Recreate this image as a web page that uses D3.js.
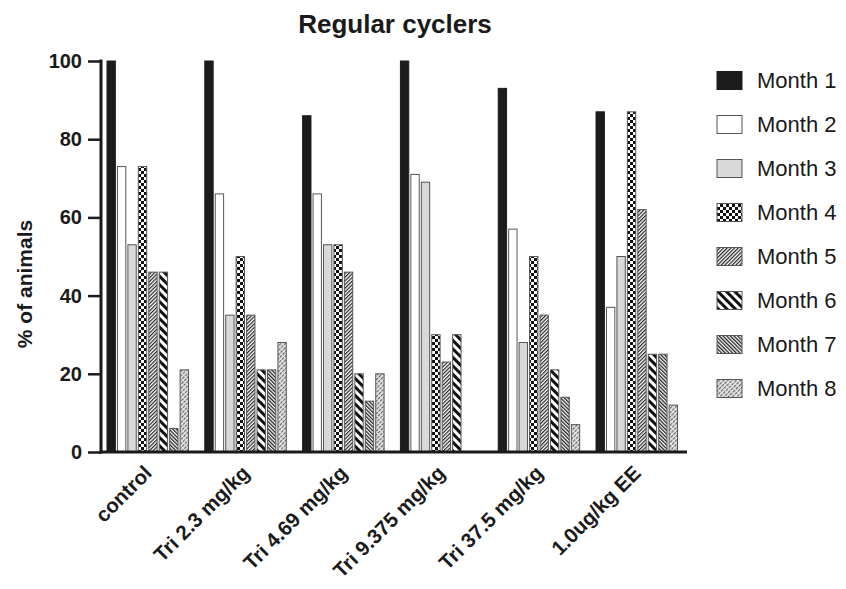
<!DOCTYPE html>
<html><head><meta charset="utf-8">
<script src="https://cdn.jsdelivr.net/npm/d3@7"></script>
<style>body{margin:0;background:#fff}svg{display:block}text{font-family:"Liberation Sans",Arial,Helvetica,sans-serif;fill:#1a1a1a}</style>
</head><body><svg id="c" width="846" height="589"></svg>
<script>
const groups = ["control", "Tri 2.3 mg/kg", "Tri 4.69 mg/kg", "Tri 9.375 mg/kg", "Tri 37.5 mg/kg", "1.0ug/kg EE"];
const months = ["Month 1", "Month 2", "Month 3", "Month 4", "Month 5", "Month 6", "Month 7", "Month 8"];
const month1 = [100, 100, 86, 100, 93, 87];
const month2 = [73, 66, 66, 71, 57, 37];
const month3 = [53, 35, 53, 69, 28, 50];
const month4 = [73, 50, 53, 30, 50, 87];
const month5 = [46, 35, 46, 23, 35, 62];
const month6 = [46, 21, 20, 30, 21, 25];
const month7 = [6, 21, 13, 0, 14, 25];
const month8 = [21, 28, 20, 0, 7, 12];
const yTicks = [0, 20, 40, 60, 80, 100];
const series = [month1, month2, month3, month4, month5, month6, month7, month8];

const svg = d3.select("#c");
const defs = svg.append("defs");
function pat(id, w, h, draw, bg, rot) {
  const p = defs.append("pattern").attr("id", id).attr("patternUnits", "userSpaceOnUse")
    .attr("width", w).attr("height", h);
  if (rot) p.attr("patternTransform", `rotate(${rot})`);
  p.append("rect").attr("width", w).attr("height", h).attr("fill", bg || "#fff");
  draw(p);
}
// checker
pat("p4", 6, 6, p => {
  p.append("rect").attr("x", 0).attr("y", 0).attr("width", 3).attr("height", 3).attr("fill", "#111");
  p.append("rect").attr("x", 3).attr("y", 3).attr("width", 3).attr("height", 3).attr("fill", "#111");
});
// fine forward hatch
pat("p5", 2.6, 10, p => {
  p.append("rect").attr("x", 0).attr("y", 0).attr("width", 1.2).attr("height", 10).attr("fill", "#222");
}, "#fff", 45);
// bold back hatch
pat("p6", 6, 10, p => {
  p.append("rect").attr("x", 0).attr("y", 0).attr("width", 3).attr("height", 10).attr("fill", "#111");
}, "#fff", -45);
// fine back hatch
pat("p7", 2.6, 10, p => {
  p.append("rect").attr("x", 0).attr("y", 0).attr("width", 1.3).attr("height", 10).attr("fill", "#222");
}, "#fff", -45);
// light dashed hatch
pat("p8", 3, 4, p => {
  p.append("rect").attr("x", 0).attr("y", 0).attr("width", 1.2).attr("height", 3).attr("fill", "#666");
}, "#e6e6e6", 45);

const fills = ["#1c1c1c", "#ffffff", "#d9d9d9", "url(#p4)", "url(#p5)", "url(#p6)", "url(#p7)", "url(#p8)"];

const y = d3.scaleLinear().domain([0, 100]).range([452, 61]);
const x0 = d3.scaleBand().domain(groups).range([107, 107 + 5 * 97.8 + 81.5]).paddingInner(0.167);
const x1 = d3.scaleBand().domain(months).range([0, x0.bandwidth()]).paddingInner(0.2);

// bars
const g = svg.append("g");
groups.forEach((grp, gi) => {
  months.forEach((m, mi) => {
    const v = series[mi][gi];
    if (v <= 0) return;
    g.append("rect")
      .attr("x", x0(grp) + x1(m))
      .attr("y", y(v))
      .attr("width", x1.bandwidth())
      .attr("height", y(0) - y(v))
      .attr("fill", fills[mi])
      .attr("stroke", mi === 0 ? "#1c1c1c" : "#555")
      .attr("stroke-width", 1);
  });
});

// y axis
const yAxis = d3.axisLeft(y).tickValues(yTicks).tickSize(13).tickPadding(6);
const ya = svg.append("g").attr("transform", "translate(101,0)").call(yAxis);
ya.select(".domain").attr("stroke", "#1a1a1a").attr("stroke-width", 3).attr("d", "M0,59.5V453.5");
ya.selectAll(".tick line").attr("stroke", "#1a1a1a").attr("stroke-width", 2.5);
ya.selectAll(".tick text").style("font-size", "20px").style("font-weight", "bold")
  .style("font-family", '"Liberation Sans",Arial,sans-serif').attr("fill", "#1a1a1a");

// x axis line
svg.append("line").attr("x1", 99.5).attr("x2", 687).attr("y1", y(0)).attr("y2", y(0))
  .attr("stroke", "#1a1a1a").attr("stroke-width", 3);

// x labels
groups.forEach(grp => {
  const cx = x0(grp) + x0.bandwidth() / 2;
  svg.append("text")
    .attr("transform", `translate(${cx - 5},${y(0) + 12}) rotate(-45)`)
    .attr("text-anchor", "end")
    .attr("dy", "0.71em")
    .style("font-size", "20.5px").style("font-weight", "bold")
    .text(grp);
});

// title
svg.append("text").attr("x", 395).attr("y", 33).attr("text-anchor", "middle")
  .style("font-size", "26px").style("font-weight", "bold").text("Regular cyclers");

// y title
svg.append("text").attr("transform", "translate(32,284) rotate(-90)").attr("text-anchor", "middle")
  .style("font-size", "21px").style("font-weight", "bold").text("% of animals");

// legend
const lg = svg.append("g");
months.forEach((m, i) => {
  const cy = 80.5 + i * 44;
  lg.append("rect").attr("x", 717).attr("y", cy - 9).attr("width", 25).attr("height", 18)
    .attr("fill", fills[i]).attr("stroke", i === 0 ? "#1c1c1c" : "#555").attr("stroke-width", 1);
  lg.append("text").attr("x", 757).attr("y", cy).attr("dy", "0.36em")
    .style("font-size", "22px").text(m);
});
</script></body></html>
